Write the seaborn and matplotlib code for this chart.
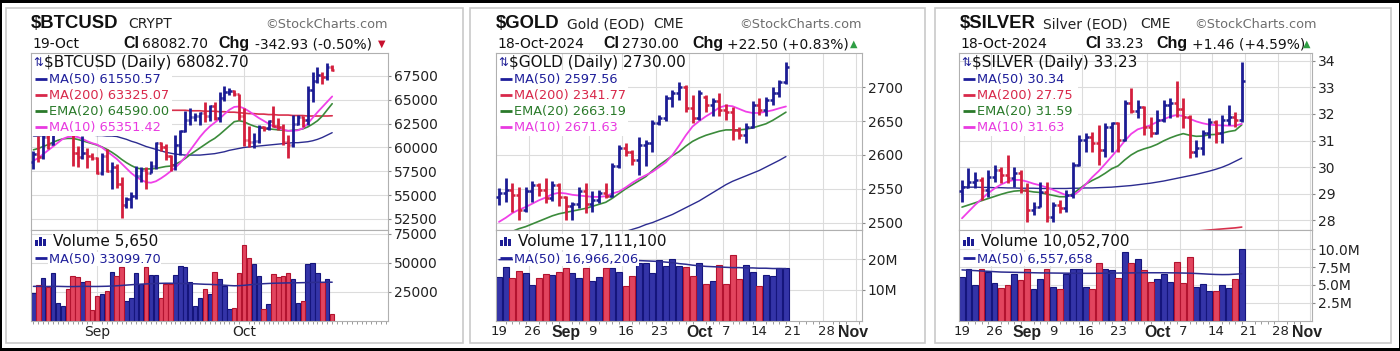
import numpy as np
import pandas as pd
import matplotlib
matplotlib.use("Agg")
import matplotlib.pyplot as plt
import matplotlib.colors as mcolors
from matplotlib.patches import Rectangle
from matplotlib.lines import Line2D
import seaborn as sns

# ---------------- data ----------------
# $BTCUSD daily bars, 19-Aug .. 19-Oct 2024 (index 0 = 19-Aug)
btc_open = [58500, 59300, 59000, 61100, 60400, 64100, 64200, 64300, 62900, 59400,
            59000, 59400, 59100, 58900, 57300, 59100, 57500, 58000, 56200, 54000,
            54600, 54900, 57000, 57600, 57300, 58100, 60500, 60000, 59100, 58200,
            60300, 61700, 62900, 63200, 63300, 63600, 63300, 64300, 63100, 65200,
            65800, 65900, 65600, 63300, 60800, 60600, 60700, 62100, 62050, 62800,
            62200, 62100, 60600, 60300, 62500, 63200, 62900, 66000, 67000, 67600,
            67400, 68425]
btc_high = [59600, 61200, 61600, 61300, 64900, 64500, 65000, 64500, 63200, 60200,
            61200, 59900, 59400, 59000, 59400, 59800, 58500, 58300, 56900, 54800,
            55300, 58100, 58000, 57900, 58600, 60600, 60600, 60400, 59200, 61300,
            61800, 63800, 64100, 63600, 63700, 64800, 64500, 64800, 65800, 66500,
            66200, 66000, 65600, 64100, 62300, 61500, 62400, 62300, 62900, 64400,
            63100, 62500, 61300, 63400, 63400, 63300, 66500, 67900, 68400, 67900,
            68900, 68700]
btc_low = [57700, 58500, 58800, 59800, 60300, 63600, 63800, 62800, 58100, 57900,
           58800, 57800, 58700, 57200, 57100, 57400, 55600, 55700, 52600, 53700,
           53600, 54600, 56400, 55600, 57300, 57700, 59600, 58700, 57500, 57600,
           59200, 61600, 62400, 62800, 62400, 62700, 62800, 62900, 62700, 64900,
           65500, 65400, 62900, 60200, 60000, 59900, 60500, 61700, 61800, 62100,
           61800, 60300, 58900, 60100, 62400, 62100, 62400, 64800, 66800, 66700,
           67100, 68000]
btc_close = [59300, 59000, 61100, 60400, 64100, 64200, 64300, 62900, 59400, 59000,
             59400, 59100, 58900, 57300, 59100, 57500, 58000, 56200, 54000, 54600,
             54900, 57000, 57600, 57300, 58100, 60500, 60000, 59100, 58200, 60300,
             61700, 62900, 63200, 63300, 63600, 63300, 64300, 63100, 65200, 65800,
             65900, 65600, 63300, 60800, 60600, 60700, 62100, 62050, 62800, 62200,
             62100, 60600, 60300, 62500, 63200, 62900, 66000, 67000, 67600, 67400,
             68425, 68083]
btc_volume = [24100, 30700, 37000, 29300, 40800, 15500, 12600, 27000, 38500, 37400,
              33600, 34500, 9200, 21600, 23000, 25900, 42200, 38800, 46600, 17000,
              19300, 40800, 31600, 46600, 39400, 39400, 19300, 31300, 31300, 39400,
              47400, 46000, 33000, 12600, 19300, 27000, 23000, 42200, 35900, 30000,
              10100, 11200, 40800, 65200, 54300, 48900, 38500, 10100, 14100, 39900,
              37400, 38500, 40800, 35600, 15500, 17000, 48600, 50000, 40800, 33600,
              35900, 5650]
btc_ma50 = [61200, 61200, 61250, 61250, 61300, 61350, 61400, 61400, 61400, 61350,
            61300, 61300, 61300, 61250, 61250, 61200, 61200, 61150, 61000, 60850,
            60650, 60500, 60300, 60100, 59950, 59800, 59650, 59500, 59400, 59300,
            59250, 59200, 59200, 59200, 59200, 59250, 59300, 59350, 59450, 59550,
            59700, 59800, 59900, 60000, 60050, 60100, 60150, 60200, 60250, 60300,
            60350, 60400, 60450, 60500, 60500, 60550, 60600, 60700, 60850, 61050,
            61300, 61550]
btc_ma200 = [64100, 64100, 64100, 64100, 64100, 64100, 64100, 64100, 64100, 64100,
             64050, 64050, 64050, 64050, 64050, 64050, 64000, 64000, 64000, 64000,
             64000, 64000, 63950, 63950, 63950, 63950, 63950, 63900, 63900, 63900,
             63900, 63900, 63850, 63850, 63850, 63800, 63800, 63800, 63750, 63750,
             63700, 63700, 63650, 63600, 63550, 63550, 63500, 63500, 63450, 63450,
             63400, 63400, 63400, 63350, 63350, 63350, 63300, 63300, 63300, 63300,
             63300, 63325]
btc_ema20 = [59750, 59900, 60100, 60300, 60550, 60750, 60900, 60950, 60950, 60850,
             60700, 60550, 60400, 60250, 60050, 59800, 59500, 59150, 58750, 58400,
             58100, 57850, 57750, 57750, 57750, 57800, 57900, 58000, 58050, 58250,
             58500, 58850, 59250, 59600, 59950, 60300, 60650, 60950, 61350, 61800,
             62250, 62700, 62800, 62700, 62450, 62250, 62100, 62000, 61950, 61900,
             61850, 61800, 61750, 61800, 61850, 61950, 62150, 62450, 62800, 63300,
             63950, 64590]
btc_ma10 = [58600, 58900, 59300, 59700, 60100, 60500, 60900, 61100, 61150, 61100,
            60900, 60650, 60450, 60300, 60000, 59600, 59200, 58800, 58300, 57800,
            57300, 56900, 56600, 56350, 56300, 56450, 56750, 57100, 57500, 57900,
            58400, 59000, 59700, 60400, 61100, 61700, 62200, 62600, 63000, 63500,
            63950, 64250, 64300, 64100, 63800, 63450, 63100, 62800, 62500, 62200,
            62000, 61850, 61750, 61750, 61800, 62000, 62500, 63100, 63700, 64250,
            64800, 65350]
btc_vol_ma50 = [29500, 29500, 29400, 29400, 29500, 29500, 29400, 29300, 29300, 29400,
                29500, 29500, 29400, 29400, 29500, 29600, 29800, 30000, 30300, 30600,
                30900, 31200, 31400, 31600, 31800, 32000, 32100, 32200, 32200, 32100,
                32000, 31900, 31800, 31700, 31500, 31300, 31200, 31000, 30800, 30500,
                30200, 30000, 30100, 30400, 30800, 31200, 31500, 31800, 32000, 32200,
                32300, 32400, 32500, 32500, 32600, 32700, 32800, 32900, 33000, 33000,
                33100, 33100]
btc_price_ticks = [52500, 55000, 57500, 60000, 62500, 65000, 67500]
btc_price_labels = ["52500", "55000", "57500", "60000", "62500", "65000", "67500"]
btc_vol_ticks = [25000, 50000, 75000]
btc_vol_labels = ["25000", "50000", "75000"]
btc_xticks = [13, 43]
btc_xlabels = ["Sep", "Oct"]

# $GOLD trading days 19-Aug .. 18-Oct 2024 (index 0..43), volume in millions
gold_open = [2538, 2543, 2548, 2541, 2519, 2546, 2556, 2548, 2536, 2556,
             2538, 2524, 2527, 2546, 2528, 2533, 2543, 2540, 2583, 2610,
             2605, 2593, 2615, 2618, 2647, 2654, 2684, 2691, 2701, 2669,
             2654, 2686, 2674, 2679, 2667, 2664, 2637, 2630, 2642, 2674,
             2667, 2681, 2691, 2707.5]
gold_high = [2551, 2566, 2558, 2553, 2553, 2561, 2558, 2566, 2561, 2558,
             2540, 2531, 2553, 2558, 2546, 2548, 2558, 2588, 2615, 2617,
             2607, 2627, 2622, 2652, 2659, 2689, 2696, 2708, 2703, 2689,
             2696, 2688, 2684, 2691, 2676, 2671, 2642, 2647, 2679, 2684,
             2686, 2701, 2711, 2738]
gold_low = [2526, 2531, 2516, 2504, 2516, 2531, 2539, 2529, 2532, 2524,
            2504, 2504, 2521, 2514, 2516, 2529, 2536, 2538, 2580, 2598,
            2585, 2570, 2583, 2605, 2644, 2650, 2671, 2681, 2664, 2647,
            2652, 2664, 2657, 2657, 2652, 2622, 2624, 2617, 2640, 2659,
            2657, 2674, 2686, 2705]
gold_close = [2543, 2548, 2541, 2519, 2546, 2556, 2548, 2536, 2556, 2538,
              2524, 2527, 2546, 2528, 2533, 2543, 2540, 2583, 2610, 2605,
              2593, 2615, 2618, 2647, 2654, 2684, 2691, 2701, 2669, 2654,
              2691, 2674, 2679, 2667, 2664, 2637, 2630, 2642, 2674, 2667,
              2681, 2691, 2707.5, 2730]
gold_volume = [14.3, 17.4, 13.8, 16.3, 15.4, 11.7, 13.8, 15.2, 14.9, 15.8,
               17.2, 15.4, 13.8, 17.2, 12.8, 14.3, 17.2, 17.2, 15.8, 11.4,
               14.7, 18.7, 18.7, 15.4, 19.8, 17.7, 20.1, 17.7, 17.4, 14.7,
               18.7, 12.0, 12.8, 18.3, 12.0, 21.5, 13.6, 18.3, 15.8, 11.4,
               14.9, 14.5, 17.3, 17.1]
gold_ma50 = [2430, 2433, 2436, 2439, 2442, 2445, 2448, 2451, 2454, 2457,
             2460, 2463, 2466, 2469, 2472, 2475, 2478, 2481, 2484, 2487,
             2490, 2493, 2497, 2500, 2504, 2508, 2512, 2517, 2522, 2527,
             2532, 2538, 2544, 2550, 2556, 2561, 2565, 2569, 2573, 2577,
             2582, 2587, 2592, 2597.56]
gold_ema20 = [2480, 2484, 2487, 2491, 2494, 2498, 2502, 2506, 2510, 2513,
              2515, 2517, 2519, 2521, 2524, 2527, 2530, 2536, 2543, 2550,
              2556, 2562, 2568, 2577, 2585, 2592, 2599, 2605, 2613, 2620,
              2625, 2629, 2632, 2635, 2637, 2637, 2637, 2638, 2640, 2643,
              2646, 2651, 2657, 2663.19]
gold_ma10 = [2501, 2507, 2514, 2519, 2523, 2528, 2533, 2537, 2542, 2544,
             2543, 2541, 2540, 2539, 2538, 2538, 2539, 2543, 2546, 2552,
             2559, 2565, 2570, 2575, 2582, 2589, 2600, 2614, 2629, 2642,
             2650, 2657, 2663, 2670, 2673, 2672, 2668, 2664, 2662, 2662,
             2664, 2666, 2669, 2671.63]
gold_vol_ma50 = [19.9, 19.9, 19.9, 19.8, 19.8, 19.8, 19.8, 19.7, 19.7, 19.7,
                 19.7, 19.7, 19.7, 19.7, 19.7, 19.7, 19.7, 19.7, 19.7, 19.7,
                 19.7, 19.6, 19.5, 19.4, 19.3, 19.1, 18.9, 18.6, 18.4, 18.1,
                 17.9, 17.7, 17.6, 17.5, 17.4, 17.3, 17.3, 17.2, 17.2, 17.1,
                 17.1, 17.0, 17.0, 16.97]
gold_price_ticks = [2500, 2550, 2600, 2650, 2700]
gold_price_labels = ["2500", "2550", "2600", "2650", "2700"]
gold_vol_ticks = [10, 20]
gold_vol_labels = ["10M", "20M"]

# $SILVER trading days 19-Aug .. 18-Oct 2024 (index 0..43), volume in millions
silver_open = [29.10, 29.27, 29.46, 29.50, 29.14, 29.64, 29.90, 29.71, 29.58, 29.77,
               29.14, 28.39, 28.52, 29.08, 28.14, 28.58, 28.45, 28.96, 30.08, 31.02,
               31.15, 30.90, 30.65, 31.52, 31.65, 31.02, 32.40, 32.10, 32.25, 31.52,
               31.30, 31.77, 32.34, 32.40, 32.20, 31.90, 30.58, 30.71, 31.27, 31.71,
               31.27, 31.77, 31.90, 31.77]
silver_high = [29.52, 29.96, 29.83, 29.64, 29.90, 30.08, 30.02, 30.46, 30.02, 29.90,
               29.39, 28.70, 29.46, 29.46, 28.70, 28.77, 29.14, 30.21, 31.21, 31.27,
               31.34, 31.59, 31.65, 31.71, 31.70, 32.53, 32.96, 32.53, 32.28, 31.90,
               32.15, 32.53, 32.59, 33.22, 32.59, 31.95, 31.02, 31.40, 31.84, 31.77,
               31.96, 32.34, 32.09, 33.97]
silver_low = [28.70, 29.21, 29.21, 28.77, 28.89, 29.46, 29.39, 29.39, 29.27, 29.02,
              27.95, 28.20, 28.50, 27.95, 27.95, 28.27, 28.33, 28.83, 30.05, 30.58,
              30.58, 30.08, 30.40, 30.58, 30.58, 31.00, 32.03, 31.84, 31.21, 31.15,
              31.25, 31.70, 31.84, 31.90, 31.46, 30.33, 30.40, 30.46, 31.09, 30.90,
              30.90, 31.59, 31.52, 31.70]
silver_close = [29.27, 29.46, 29.50, 29.14, 29.64, 29.90, 29.71, 29.58, 29.77, 29.14,
                28.39, 28.52, 29.08, 28.14, 28.58, 28.45, 28.96, 30.08, 31.02, 31.15,
                30.90, 30.65, 31.52, 31.65, 31.02, 32.40, 32.10, 32.25, 31.52, 31.30,
                31.77, 32.34, 32.40, 32.20, 31.90, 30.58, 30.71, 31.27, 31.71, 31.27,
                31.77, 31.90, 31.77, 33.23]
silver_volume = [6.05, 7.27, 5.00, 7.27, 6.82, 5.23, 4.55, 5.00, 6.59, 5.68,
                 7.27, 4.41, 5.77, 7.27, 4.64, 4.45, 6.59, 7.27, 7.27, 4.64,
                 4.45, 8.09, 7.18, 7.05, 5.91, 9.55, 8.09, 8.64, 7.05, 5.45,
                 5.82, 6.59, 5.45, 8.27, 5.23, 8.86, 4.77, 5.14, 4.18, 4.18,
                 5.00, 4.55, 5.82, 10.05]
silver_ma50 = [29.26, 29.25, 29.25, 29.24, 29.24, 29.23, 29.23, 29.22, 29.22, 29.21,
               29.21, 29.21, 29.20, 29.20, 29.20, 29.20, 29.20, 29.21, 29.21, 29.22,
               29.22, 29.23, 29.24, 29.25, 29.27, 29.29, 29.31, 29.34, 29.37, 29.40,
               29.44, 29.48, 29.53, 29.58, 29.63, 29.68, 29.73, 29.79, 29.85, 29.92,
               30.00, 30.10, 30.22, 30.34]
silver_ma200 = [26.56, 26.59, 26.62, 26.65, 26.68, 26.70, 26.73, 26.76, 26.79, 26.82,
                26.85, 26.88, 26.91, 26.94, 26.97, 27.00, 27.03, 27.06, 27.09, 27.12,
                27.15, 27.18, 27.21, 27.24, 27.27, 27.30, 27.33, 27.36, 27.39, 27.42,
                27.45, 27.48, 27.50, 27.53, 27.56, 27.58, 27.60, 27.62, 27.64, 27.66,
                27.68, 27.70, 27.72, 27.75]
silver_ema20 = [28.50, 28.58, 28.66, 28.74, 28.82, 28.90, 28.98, 29.05, 29.10, 29.12,
                29.11, 29.07, 29.05, 28.99, 28.94, 28.89, 28.89, 28.99, 29.18, 29.36,
                29.50, 29.62, 29.77, 29.94, 30.05, 30.27, 30.46, 30.60, 30.69, 30.76,
                30.86, 30.99, 31.10, 31.19, 31.26, 31.20, 31.16, 31.17, 31.22, 31.23,
                31.28, 31.34, 31.38, 31.59]
silver_ma10 = [28.08, 28.33, 28.58, 28.80, 29.02, 29.20, 29.35, 29.46, 29.52, 29.52,
               29.46, 29.38, 29.32, 29.24, 29.15, 29.05, 28.95, 28.92, 29.10, 29.35,
               29.62, 29.85, 30.12, 30.40, 30.68, 30.98, 31.25, 31.42, 31.50, 31.58,
               31.70, 31.80, 31.90, 31.96, 31.92, 31.82, 31.72, 31.65, 31.60, 31.58,
               31.57, 31.56, 31.56, 31.63]
silver_vol_ma50 = [7.10, 7.05, 7.00, 6.95, 6.90, 6.85, 6.80, 6.78, 6.76, 6.74,
                   6.72, 6.70, 6.68, 6.67, 6.66, 6.65, 6.64, 6.63, 6.62, 6.62,
                   6.62, 6.63, 6.64, 6.65, 6.66, 6.67, 6.68, 6.69, 6.70, 6.70,
                   6.70, 6.70, 6.69, 6.68, 6.66, 6.64, 6.60, 6.55, 6.50, 6.46,
                   6.44, 6.45, 6.50, 6.56]
silver_price_ticks = [28, 29, 30, 31, 32, 33, 34]
silver_price_labels = ["28", "29", "30", "31", "32", "33", "34"]
silver_vol_ticks = [2.5, 5.0, 7.5, 10.0]
silver_vol_labels = ["2.5M", "5.0M", "7.5M", "10.0M"]

# shared date axis of the two metals charts (trading-day index, runs to 1-Nov)
metal_xticks = [0, 5, 10, 14, 19, 24, 30, 34, 39, 44, 49, 53]
metal_xlabels = ["19", "26", "Sep", "9", "16", "23", "Oct", "7", "14", "21", "28", "Nov"]
metal_week_lines = [4.5, 9.5, 13.5, 18.5, 23.5, 28.5, 33.5, 38.5, 43.5, 48.5, 53.5]

# ---------------- style ----------------
sns.set_theme(style="white")
plt.rcParams["font.family"] = ["DejaVu Sans"]

W, H = 1400, 351
BLUE, RED = "#1c1c94", "#d41f3d"
VBLUE, VBLUE_E = "#3434a8", "#15157c"
VRED, VRED_E = "#e2445e", "#b3132f"
C_MA50, C_MA200, C_EMA20, C_MA10 = "#2c2c90", "#d8304c", "#3b8b3b", "#f040e8"
T_MA50, T_MA200, T_EMA20, T_MA10 = "#1e1e9a", "#d8284a", "#2a7a2a", "#e83ae0"
GRID, SPINE = "#dcdcdc", "#b0b0b0"

TITLE = dict(fontfamily="Liberation Sans", fontweight="bold", fontsize=13.3)
BOLD = dict(fontfamily="Liberation Sans", fontweight="bold", fontsize=11.5)
REG = dict(fontfamily="DejaVu Sans", fontsize=10)
WIDE = dict(fontfamily="DejaVu Sans", fontsize=11)
SMALL = dict(fontfamily="DejaVu Sans", fontsize=9.3)
GRAYF = dict(fontfamily="DejaVu Sans", fontsize=9.3)

fig = plt.figure(figsize=(W / 100, H / 100), dpi=100)
fig.patch.set_facecolor("white")


def fx(x):
    return x / W


def fy(y):
    return 1 - y / H


def add_ax(x0, y0, x1, y1):
    return fig.add_axes([fx(x0), fy(y1), (x1 - x0) / W, (y1 - y0) / H])


def txt(x, y, s, style, color="#111111", ha="left", va="baseline", **kw):
    return fig.text(fx(x), fy(y), s, ha=ha, va=va, color=color, **style, **kw)


def frect(x0, y0, x1, y1, **kw):
    r = Rectangle((fx(x0), fy(y1)), (x1 - x0) / W, (y1 - y0) / H,
                  transform=fig.transFigure, **kw)
    fig.patches.append(r)
    return r


def fline(x0, x1, y, color, lw=2.0):
    fig.add_artist(Line2D([fx(x0), fx(x1)], [fy(y), fy(y)], transform=fig.transFigure,
                          color=color, lw=lw, solid_capstyle="butt", zorder=4))


def rising(o, c):
    c = np.asarray(c, float)
    prev = np.concatenate([[o[0]], c[:-1]])
    return c >= prev


def style_axis(a, xlim, ylim, yticks, ylabels, grid_x):
    a.set_xlim(xlim)
    a.set_ylim(ylim)
    a.set_xlabel("")
    a.set_ylabel("")
    a.set_facecolor("white")
    for s in a.spines.values():
        s.set_color(SPINE)
        s.set_linewidth(0.8)
    a.set_yticks(yticks)
    a.set_yticklabels(ylabels)
    a.tick_params(axis="y", which="both", left=False, right=True, labelleft=False,
                  labelright=True, length=2.5, width=0.8, color="#888888",
                  labelsize=10, labelcolor="#222222", pad=1.5)
    a.yaxis.grid(True, color=GRID, lw=0.8)
    a.xaxis.grid(False)
    a.set_axisbelow(True)
    for g in grid_x:
        a.axvline(g, color=GRID, lw=0.8, zorder=0)


def panel(p):
    x0, x1 = p["ax_x"]
    ax = add_ax(x0, 53, x1, 230)
    axv = add_ax(x0, 230, x1, 320.5)
    o, h, l, c = (np.asarray(p[k], float) for k in ("open", "high", "low", "close"))
    x = np.arange(len(c))
    up = rising(o, c)
    cols = np.where(up, BLUE, RED)

    # moving averages
    for vals, col, lw in ((p["ma50"], C_MA50, 1.0), (p["ma200"], C_MA200, 1.2),
                          (p["ema20"], C_EMA20, 1.2), (p["ma10"], C_MA10, 1.3)):
        if vals is not None:
            sns.lineplot(x=x, y=vals, ax=ax, color=col, lw=lw, zorder=2)

    # OHLC bars
    tk = 0.45
    ax.vlines(x, l, h, colors=cols, lw=2.0, zorder=3)
    ax.hlines(o, x - tk, x, colors=cols, lw=1.8, zorder=3)
    ax.hlines(c, x, x + tk, colors=cols, lw=1.8, zorder=3)

    # volume
    vdf = pd.DataFrame({"x": x, "vol": p["volume"], "dir": np.where(up, "up", "down")})
    sns.barplot(data=vdf, x="x", y="vol", hue="dir", hue_order=["up", "down"],
                palette={"up": VBLUE, "down": VRED}, native_scale=True, dodge=False,
                width=0.9, saturation=1, errorbar=None, legend=False, ax=axv,
                linewidth=0.8, zorder=2)
    for patch in axv.patches:
        fc = mcolors.to_hex(patch.get_facecolor())
        patch.set_edgecolor(VBLUE_E if fc == VBLUE else VRED_E)
    sns.lineplot(x=x, y=p["vol_ma50"], ax=axv, color=C_MA50, lw=1.1, zorder=3)

    style_axis(ax, p["xlim"], p["ylim"], p["yticks"], p["ylabels"], p["grid_x"])
    style_axis(axv, p["xlim"], p["vylim"], p["vticks"], p["vlabels"], p["grid_x"])
    ax.set_xticks([])
    axv.set_xticks(p["xticks"])
    axv.set_xticklabels(p["xlabels"])
    axv.set_xticks(np.arange(0, int(p["xlim"][1]) + 1), minor=True)
    axv.tick_params(axis="x", which="major", bottom=False, length=0, pad=3,
                    labelcolor="#222222")
    axv.tick_params(axis="x", which="minor", bottom=True, length=2.2, width=0.7,
                    color="#999999", direction="out")
    for lab in axv.get_xticklabels():
        if p["bold_months"] and lab.get_text() in ("Sep", "Oct", "Nov"):
            lab.set_fontfamily("Liberation Sans")
            lab.set_fontweight("bold")
            lab.set_fontsize(11.4)
        else:
            lab.set_fontfamily("DejaVu Sans")
            lab.set_fontsize(p["xlabel_size"])

    # header
    for s, xx, yy, st, col in p["header"]:
        txt(xx, yy, s, st, color=col)
    txt(p["stamp_right"], 28, "\u00a9StockCharts.com", GRAYF, color="#6e6e6e", ha="right")
    tri, tri_x, tri_col = p["arrow"]
    txt(tri_x, 46.5, tri, dict(fontfamily="DejaVu Sans", fontsize=7), color=tri_col,
        ha="center")

    # price legend
    frect(x0 + 1, 70, p["legend_right"], 136, facecolor="white", edgecolor="none", zorder=1)
    txt(x0 + 2, 66.5, "\u21c5", dict(fontfamily="DejaVu Sans", fontsize=8.5), color=BLUE, zorder=4)
    txt(x0 + 13, 67.5, p["legend_title"], WIDE, zorder=4)
    for k, (label, col) in enumerate(zip(p["ma_labels"], (T_MA50, T_MA200, T_EMA20, T_MA10))):
        yc = 78.5 + 16 * k
        fline(x0 + 4, x0 + 16, yc, col)
        txt(x0 + 18, yc + 4.7, label, SMALL, color=col, zorder=4)

    # volume legend
    for dx, hh in ((4, 6), (8, 9), (12, 7)):
        frect(x0 + dx, 246 - hh, x0 + dx + 3, 246, facecolor=BLUE, edgecolor="none", zorder=4)
    txt(x0 + 22, 246.5, p["vol_title"], WIDE, zorder=4,
        bbox=dict(facecolor="white", edgecolor="none", pad=0.5))
    fline(x0 + 4, x0 + 16, 258, T_MA50)
    txt(x0 + 18, 262.7, p["vol_ma_label"], SMALL, color=T_MA50, zorder=4,
        bbox=dict(facecolor="white", edgecolor="none", pad=0.5))


panels = [
    dict(ax_x=(31, 388), xlim=(-0.5, 72.4),
         open=btc_open, high=btc_high, low=btc_low, close=btc_close, volume=btc_volume,
         ma50=btc_ma50, ma200=btc_ma200, ema20=btc_ema20, ma10=btc_ma10, vol_ma50=btc_vol_ma50,
         ylim=(51340, 69910), yticks=btc_price_ticks, ylabels=btc_price_labels,
         vylim=(0, 78200), vticks=btc_vol_ticks, vlabels=btc_vol_labels,
         xticks=btc_xticks, xlabels=btc_xlabels, grid_x=btc_xticks, bold_months=False,
         xlabel_size=10,
         header=[("$BTCUSD", 31, 28, TITLE, "#111111"), ("CRYPT", 128, 28, REG, "#222222"),
                 ("19-Oct", 32, 48, REG, "#111111"), ("Cl", 123, 48, BOLD, "#111111"),
                 ("68082.70", 142, 48, REG, "#111111"), ("Chg", 218, 48, BOLD, "#111111"),
                 ("-342.93 (-0.50%)", 255, 48, REG, "#111111")],
         stamp_right=388, arrow=("\u25bc", 382, "#c8102e"), legend_right=172,
         legend_title="$BTCUSD (Daily) 68082.70",
         ma_labels=["MA(50) 61550.57", "MA(200) 63325.07", "EMA(20) 64590.00", "MA(10) 65351.42"],
         vol_title="Volume 5,650", vol_ma_label="MA(50) 33099.70"),
    dict(ax_x=(496, 862), xlim=(-0.45, 54.4),
         open=gold_open, high=gold_high, low=gold_low, close=gold_close, volume=gold_volume,
         ma50=gold_ma50, ma200=None, ema20=gold_ema20, ma10=gold_ma10, vol_ma50=gold_vol_ma50,
         ylim=(2489, 2750.7), yticks=gold_price_ticks, ylabels=gold_price_labels,
         vylim=(0, 29.6), vticks=gold_vol_ticks, vlabels=gold_vol_labels,
         xticks=metal_xticks, xlabels=metal_xlabels, grid_x=metal_week_lines,
         bold_months=True, xlabel_size=9.5,
         header=[("$GOLD", 495.7, 28, TITLE, "#111111"), ("Gold (EOD)", 566.7, 28, REG, "#222222"),
                 ("CME", 653, 28, REG, "#222222"),
                 ("18-Oct-2024", 497, 48, REG, "#111111"), ("Cl", 603, 48, BOLD, "#111111"),
                 ("2730.00", 622, 48, REG, "#111111"), ("Chg", 692, 48, BOLD, "#111111"),
                 ("+22.50 (+0.83%)", 727, 48, REG, "#111111")],
         stamp_right=862, arrow=("\u25b2", 854, "#2f9e44"), legend_right=628,
         legend_title="$GOLD (Daily) 2730.00",
         ma_labels=["MA(50) 2597.56", "MA(200) 2341.77", "EMA(20) 2663.19", "MA(10) 2671.63"],
         vol_title="Volume 17,111,100", vol_ma_label="MA(50) 16,966,206"),
    dict(ax_x=(959, 1312), xlim=(-0.46, 53.8),
         open=silver_open, high=silver_high, low=silver_low, close=silver_close,
         volume=silver_volume, ma50=silver_ma50, ma200=silver_ma200, ema20=silver_ema20,
         ma10=silver_ma10, vol_ma50=silver_vol_ma50,
         ylim=(27.64, 34.29), yticks=silver_price_ticks, ylabels=silver_price_labels,
         vylim=(0, 12.7), vticks=silver_vol_ticks, vlabels=silver_vol_labels,
         xticks=metal_xticks, xlabels=metal_xlabels, grid_x=metal_week_lines,
         bold_months=True, xlabel_size=9.5,
         header=[("$SILVER", 960, 28, TITLE, "#111111"), ("Silver (EOD)", 1043, 28, REG, "#222222"),
                 ("CME", 1140, 28, REG, "#222222"),
                 ("18-Oct-2024", 960, 48, REG, "#111111"), ("Cl", 1085, 48, BOLD, "#111111"),
                 ("33.23", 1105, 48, REG, "#111111"), ("Chg", 1156, 48, BOLD, "#111111"),
                 ("+1.46 (+4.59%)", 1192, 48, REG, "#111111")],
         stamp_right=1317, arrow=("\u25b2", 1307, "#2f9e44"), legend_right=1078,
         legend_title="$SILVER (Daily) 33.23",
         ma_labels=["MA(50) 30.34", "MA(200) 27.75", "EMA(20) 31.59", "MA(10) 31.63"],
         vol_title="Volume 10,052,700", vol_ma_label="MA(50) 6,557,658"),
]

for p in panels:
    panel(p)

# panel frames and outer black border
for a, b in ((6, 463), (470, 925), (935, 1391)):
    frect(a, 8, b, 343, fill=False, edgecolor="#c9c9c9", lw=1.2, zorder=0.5)
frect(0, 0, 1400, 2.5, facecolor="black", edgecolor="none", zorder=5)
frect(0, 347.5, 1400, 351, facecolor="black", edgecolor="none", zorder=5)
frect(0, 0, 1.5, 351, facecolor="black", edgecolor="none", zorder=5)
frect(1398.5, 0, 1400, 351, facecolor="black", edgecolor="none", zorder=5)

fig.savefig("out.png", dpi=100, facecolor="white")
